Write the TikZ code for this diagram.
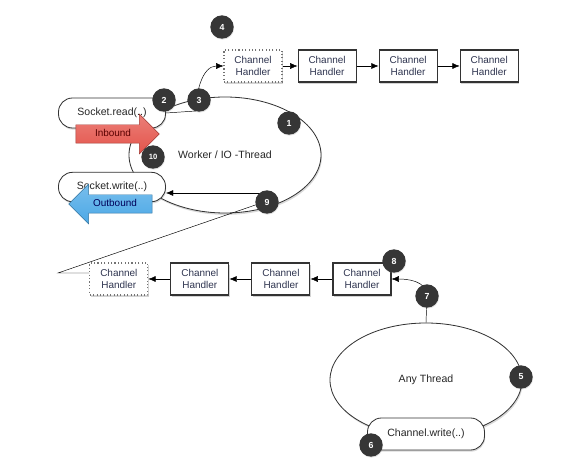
\documentclass[tikz,border=0pt]{standalone}
\usepackage{fontspec}
\setmainfont{Liberation Sans}
\usepackage{xcolor}
\usepackage{tikz}
\usetikzlibrary{arrows.meta,positioning,shapes.geometric,shapes.arrows,shadows}

\definecolor{badgegray}{HTML}{363636}
\definecolor{inkblue}{HTML}{2F3550}
\definecolor{inred}{HTML}{E4544B}
\definecolor{outblue}{HTML}{4BA8E6}

\begin{document}
\begin{tikzpicture}[x=0.03cm, y=-0.03cm, >={Latex[length=2.2mm,width=1.8mm]}, node distance=6.6mm,
  every node/.style={font=\fontsize{8.5}{10}\selectfont, align=center, text=black!85},
  handler/.style={draw=black!80, line width=0.9pt, fill=white, text=inkblue, minimum width=1.74cm, minimum height=0.96cm, inner sep=1pt,
    drop shadow={shadow xshift=0.6pt, shadow yshift=-1.6pt, opacity=0.35}},
  ghost/.style={handler, draw=black!55, dotted},
  pill/.style={draw=black!80, line width=0.7pt, fill=white, rounded corners=0.42cm, font=\fontsize{9}{10}\selectfont,
    drop shadow={shadow xshift=0.6pt, shadow yshift=-1.4pt, opacity=0.3}},
  thread/.style={ellipse, draw=black!80, line width=0.7pt, fill=white, font=\fontsize{9}{10}\selectfont,
    drop shadow={shadow xshift=0.8pt, shadow yshift=-1.6pt, opacity=0.3}},
  flow/.style={single arrow, line width=0.4pt, minimum height=2.5cm, single arrow head extend=0.32cm,
    text height=0.2cm, text depth=0.06cm, inner ysep=0.14cm, font=\fontsize{8.5}{10}\selectfont},
  badge/.style={circle, fill=badgegray, text=white, font=\bfseries\fontsize{7.5}{7.5}\selectfont, minimum size=0.7cm, inner sep=0pt,
    drop shadow={shadow xshift=0.4pt, shadow yshift=-0.8pt, opacity=0.25}}]
\useasboundingbox (0,0) rectangle (580,461);

% threads
\node (worker) [thread, minimum width=5.76cm, minimum height=3.48cm] at (225,155) {Worker / IO -Thread};
\node (any) [thread, minimum width=5.76cm, minimum height=3.42cm] at (426,380) {Any Thread};

% socket and channel calls
\node (rd) [pill, minimum width=3.21cm, minimum height=0.9cm] at (112,113) {Socket.read(..)};
\node (wr) [pill, minimum width=3.21cm, minimum height=0.88cm] at (112,187) {Socket.write(..)};
\node (cw) [pill, minimum width=3.51cm, minimum height=0.96cm] at (426,434) {Channel.write(..)};

\node (inb) [flow, draw=inred!70!black, top color=inred!75!white, bottom color=inred, text=red!35!black] at (113,134) {Inbound};
\node (outb) [flow, shape border rotate=180, draw=outblue!70!black, top color=outblue!75!white, bottom color=outblue, text=blue!35!black] at (115,204) {Outbound};

% inbound handlers
\node (in1) [ghost] at (253,66) {Channel\\Handler};
\node (in2) [handler, right=4.5mm of in1] {Channel\\Handler};
\node (in3) [handler, right=of in2] {Channel\\Handler};
\node (in4) [handler, right=of in3] {Channel\\Handler};

% outbound handlers
\node (out1) [handler] at (362,279) {Channel\\Handler};
\node (out2) [handler, left=of out1] {Channel\\Handler};
\node (out3) [handler, left=of out2] {Channel\\Handler};
\node (out4) [ghost, left=of out3] {Channel\\Handler};

\coordinate (p3) at (196,111);
\coordinate (p7) at (427,296);
\coordinate (p9) at (266,193);
\coordinate (kink) at (58,273);

\draw[->] (rd.east) -- (p3) to[out=90,in=180] (in1.west);
\draw[->] (in1) -- (in2);
\draw[->] (in2) -- (in3);
\draw[->] (in3) -- (in4);

\draw[->] (any.north) -- (p7) to[out=90,in=0] (out1.east);
\draw[->] (out1) -- (out2);
\draw[->] (out2) -- (out3);
\draw[->] (out3) -- (out4);
\draw (kink -| out4.west) -- (kink) -- (267,201);
\draw[->] (p9) -- (p9 -| wr.east);

% steps
\node (n1) [badge] at (289,123) {1};
\node (n2) [badge] at (164,100) {2};
\node (n3) [badge] at (199,100) {3};
\node (n4) [badge] at (222,27) {4};
\node (n5) [badge] at (521,377) {5};
\node (n6) [badge] at (371,445) {6};
\node (n7) [badge] at (p7) {7};
\node (n8) [badge] at (394,261) {8};
\node (n9) [badge] at (267,202) {9};
\node (n10) [badge, font=\bfseries\fontsize{6.5}{6.5}\selectfont] at (153,157) {10};
\end{tikzpicture}
\end{document}
